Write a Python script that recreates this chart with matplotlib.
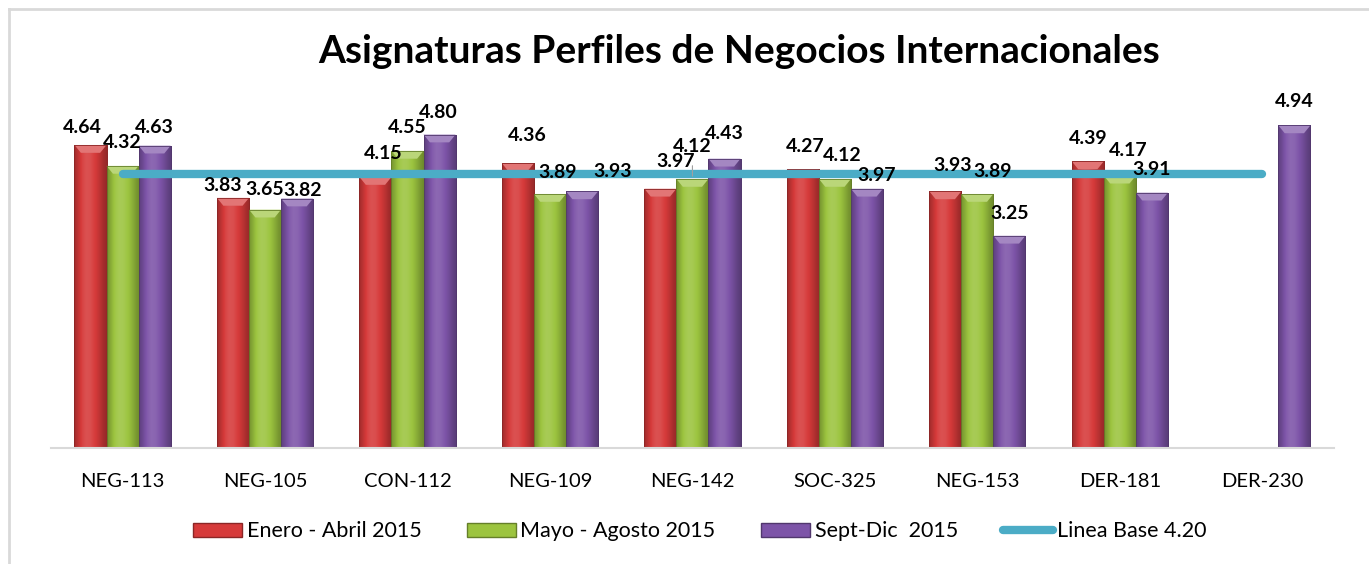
import matplotlib
matplotlib.use('Agg')
import matplotlib.pyplot as plt
import matplotlib.colors as mcolors
from matplotlib.patches import Patch
from matplotlib.lines import Line2D
import numpy as np

# Data
cursos = ['NEG-113', 'NEG-105', 'CON-112', 'NEG-109', 'NEG-142',
          'SOC-325', 'NEG-153', 'DER-181', 'DER-230']
enero_abril = [4.64, 3.83, 4.15, 4.36, 3.97, 4.27, 3.93, 4.39, np.nan]
mayo_agosto = [4.32, 3.65, 4.55, 3.89, 4.12, 4.12, 3.89, 4.17, np.nan]
sept_dic = [4.63, 3.82, 4.80, 3.93, 4.43, 3.97, 3.25, 3.91, 4.94]
linea_base = 4.20

series = [
    ('Enero - Abril 2015', enero_abril, '#d63a3a'),
    ('Mayo - Agosto 2015', mayo_agosto, '#9cc43f'),
    ('Sept-Dic  2015', sept_dic, '#7d54a8'),
]

# label nudges in pixels (dx, dy above bar top), one row per series
label_offsets = [
    [(-8, 17), (-10, 12), (8, 23), (9, 28), (15, 27), (2, 23), (7, 26), (0, 23), (0, 0)],
    [(0, 23), (0, 20), (0, 23), (8, 21), (0, 32), (7, 23), (15, 22), (8, 25), (0, 0)],
    [(0, 18), (6, 8), (-1, 22), (31, 20), (0, 25), (10, 13), (0, 22), (0, 23), (0, 24)],
]

plt.rcParams['font.family'] = ['Lato', 'DejaVu Sans']

fig = plt.figure(figsize=(13.69, 5.64), dpi=100)
ax = fig.add_axes([0.0375, 0.2057, 0.9366, 0.6947])

x = np.arange(len(cursos))
w = 0.225


def shade(color, f):
    c = np.array(mcolors.to_rgb(color))
    if f >= 0:
        return c + (1 - c) * f
    return c * (1 + f)


for k, (name, vals, col) in enumerate(series):
    bars = ax.bar(x + (k - 1) * w, vals, width=w, color=col, edgecolor=shade(col, -0.35),
                  linewidth=0.6, zorder=2)
    # horizontal gradient to mimic the bevelled Excel bars
    prof = np.array([-0.25, -0.1, 0.05, 0.12, 0.1, 0.02, -0.08, -0.2, -0.3])
    grad = np.array([[shade(col, p) for p in np.interp(np.linspace(0, 1, 40),
                                                      np.linspace(0, 1, len(prof)), prof)]])
    for b, v in zip(bars, vals):
        if np.isnan(v):
            continue
        x0, y0 = b.get_x(), b.get_y()
        bw, bh = b.get_width(), b.get_height()
        im = ax.imshow(grad, extent=[x0, x0 + bw, y0, y0 + bh], aspect='auto',
                       interpolation='bilinear', zorder=2.1)
        im.set_clip_path(b)
        # lighter top cap
        cap = 0.12
        ax.fill([x0, x0 + bw, x0 + bw * 0.8, x0 + bw * 0.2],
                [y0 + bh, y0 + bh, y0 + bh - cap, y0 + bh - cap],
                color=shade(col, 0.3), zorder=2.2, lw=0)
        ax.plot([x0, x0 + bw, x0 + bw, x0, x0], [y0, y0, y0 + bh, y0 + bh, y0],
                color=shade(col, -0.35), lw=0.6, zorder=2.3)

    for i, v in enumerate(vals):
        if np.isnan(v):
            continue
        dx, dy = label_offsets[k][i]
        ax.annotate(f'{v:.2f}', (x[i] + (k - 1) * w, v), xytext=(dx, dy),
                    textcoords='offset pixels', ha='center', va='center',
                    fontsize=14, fontweight='bold', color='black', zorder=5)

# leader line for the NEG-142 middle label
ax.annotate('', (x[4], mayo_agosto[4]), xytext=(0, 16), textcoords='offset pixels',
            arrowprops=dict(arrowstyle='-', color='#a0a0a0', lw=0.8), zorder=4)

ax.plot(x, [linea_base] * len(x), color='#4bacc6', lw=6, solid_capstyle='round', zorder=3)

ax.set_xlim(-0.5, len(cursos) - 0.5)
ax.set_ylim(0, 6)
ax.set_yticks([])
ax.set_xticks(x)
ax.set_xticklabels(cursos, fontsize=14.5)
ax.tick_params(axis='x', length=0, pad=18)
for s in ['top', 'right', 'left']:
    ax.spines[s].set_visible(False)
ax.spines['bottom'].set_color('#d9d9d9')
ax.spines['bottom'].set_linewidth(1.5)

fig.text(0.54, 0.908, 'Asignaturas Perfiles de Negocios Internacionales',
         ha='center', va='center', fontsize=28, fontweight='bold')

handles = [Patch(facecolor=c, edgecolor=shade(c, -0.35), label=n) for n, _, c in series]
handles.append(Line2D([0], [0], color='#4bacc6', lw=6, solid_capstyle='round',
                      label='Linea Base 4.20'))
fig.legend(handles=handles, loc='center', bbox_to_anchor=(0.511, 0.058), ncol=4,
           frameon=False, fontsize=15.5, handlelength=2.3, handleheight=0.6,
           handletextpad=0.2, columnspacing=2.1)

# light frame on the left and top edges
fig.add_artist(Line2D([0.0066, 0.0066], [0, 0.984], color='#d9d9d9', lw=2))
fig.add_artist(Line2D([0.0066, 1], [0.984, 0.984], color='#d9d9d9', lw=2))

fig.savefig('out.png', dpi=100)
